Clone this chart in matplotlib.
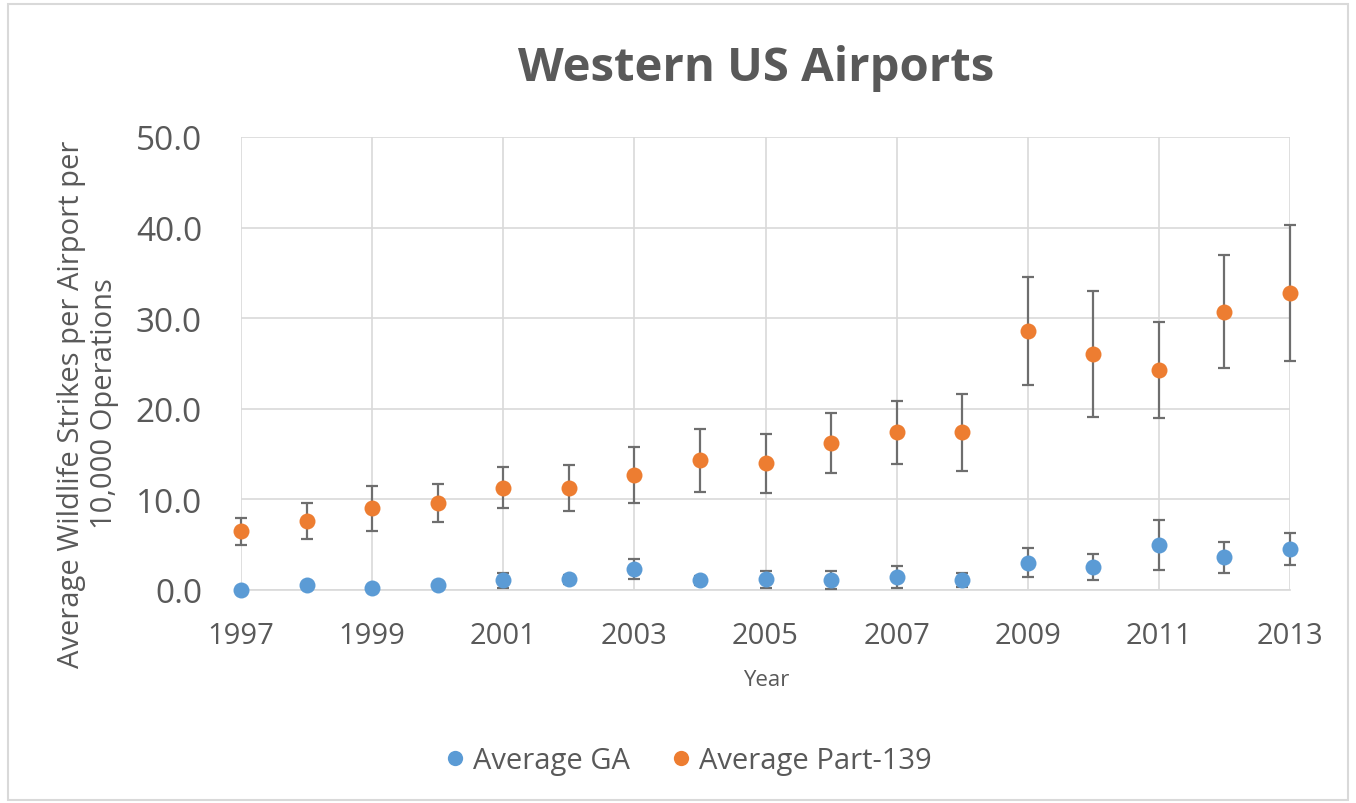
import matplotlib
matplotlib.use("Agg")
import matplotlib.pyplot as plt
from matplotlib.patches import Rectangle
from matplotlib.lines import Line2D

years = list(range(1997, 2014))
ga_mean = [0.0, 0.5, 0.2, 0.5, 1.05, 1.2, 2.3, 1.1, 1.2, 1.1, 1.4, 1.1, 3.0, 2.55, 4.95, 3.6, 4.5]
ga_err = [0.0, 0.2, 0.1, 0.2, 0.8, 0.5, 1.1, 0.5, 0.95, 0.95, 1.2, 0.8, 1.6, 1.4, 2.75, 1.7, 1.75]
p139_mean = [6.5, 7.65, 9.0, 9.6, 11.3, 11.3, 12.7, 14.3, 14.0, 16.2, 17.4, 17.4, 28.6, 26.1, 24.3, 30.7, 32.8]
p139_err = [1.5, 2.0, 2.5, 2.1, 2.25, 2.55, 3.1, 3.45, 3.25, 3.3, 3.45, 4.25, 6.0, 6.95, 5.3, 6.25, 7.5]
xticks = list(range(1997, 2014, 2))
yticks = [0, 10, 20, 30, 40, 50]

blue = "#5B9BD5"
orange = "#ED7D31"
txt = "#595959"
errc = "#6E6E6E"

plt.rcParams['font.family'] = ['Open Sans', 'DejaVu Sans']

W, H = 1356, 804
fig = plt.figure(figsize=(W / 100, H / 100), dpi=100)
fig.patches.append(Rectangle((0.006, 0.004), 0.988, 0.99, transform=fig.transFigure,
                             fill=False, edgecolor="#D9D9D9", linewidth=1.5))
ax = fig.add_axes([241 / W, 1 - 591 / H, (1290 - 241) / W, (591 - 138) / H])

for m, e, c in [(ga_mean, ga_err, blue), (p139_mean, p139_err, orange)]:
    ax.errorbar(years, m, yerr=e, fmt='none', ecolor=errc, elinewidth=1.6,
                capsize=4.5, capthick=1.6, zorder=3, clip_on=False)
    ax.plot(years, m, 'o', color=c, markersize=11.5, markeredgewidth=0, zorder=4, clip_on=False)

ax.set_xlim(1997, 2013)
ax.set_ylim(0, 50)
ax.set_xticks(xticks)
ax.set_xticklabels([str(x) for x in xticks])
ax.set_yticks(yticks)
ax.set_yticklabels([f"{y:.1f}" for y in yticks])
ax.grid(True, color="#D9D9D9", linewidth=1.2, zorder=0)
ax.set_axisbelow(True)
for s in ['left', 'right', 'top']:
    ax.spines[s].set_visible(False)
ax.spines['bottom'].set_color("#D9D9D9")
ax.spines['bottom'].set_linewidth(1.2)
ax.tick_params(axis='both', length=0, colors=txt)
ax.tick_params(axis='y', labelsize=24, pad=28)
ax.tick_params(axis='x', labelsize=21, pad=22)

ax.set_ylabel("Average Wildlife Strikes per Airport per\n10,000 Operations", fontsize=21,
              color=txt, labelpad=12, linespacing=1.2, y=(591 - 404) / (591 - 138))

fig.text(766 / W, 1 - 681 / H, "Year", ha='center', va='center', fontsize=16, color=txt)

fig.text(756 / W, 1 - 68 / H, "Western US Airports", ha='center', va='center',
         fontsize=34, fontweight='bold', color=txt)

handles = [Line2D([], [], marker='o', linestyle='none', color=blue, markersize=11, markeredgewidth=0),
           Line2D([], [], marker='o', linestyle='none', color=orange, markersize=11, markeredgewidth=0)]
fig.legend(handles, ["Average GA", "Average Part-139"], loc='center',
           bbox_to_anchor=(689 / W, 1 - 762 / H), ncol=2, frameon=False, fontsize=21,
           labelcolor=txt, handlelength=0.6, handletextpad=0.32, columnspacing=1.48,
           borderpad=0, borderaxespad=0)

fig.savefig("out.png", dpi=100)
